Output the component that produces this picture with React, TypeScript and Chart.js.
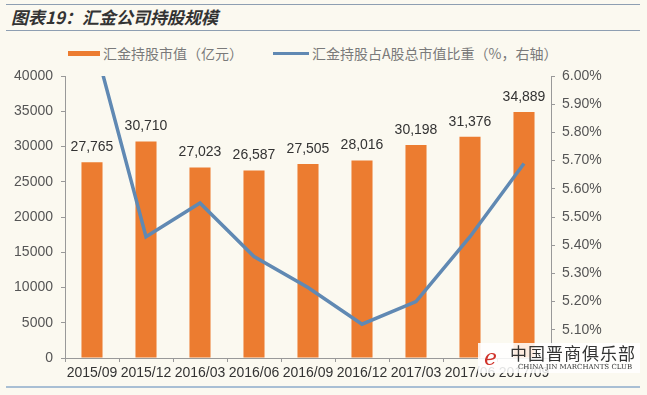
import React, { useEffect, useRef } from "react";
import { Chart, registerables } from "chart.js";

Chart.register(...registerables);

const categories = ["2015/09", "2015/12", "2016/03", "2016/06", "2016/09", "2016/12", "2017/03", "2017/06", "2017/09"];
const holdingValue = [27765, 30710, 27023, 26587, 27505, 28016, 30198, 31376, 34889];
const holdingShare = [6.15, 5.43, 5.55, 5.36, 5.25, 5.12, 5.2, 5.43, 5.69];
const leftAxis = { min: 0, max: 40000, step: 5000 };
const rightAxis = { min: 5, max: 6, step: 0.1 };

const titleText = "图表19：汇金公司持股规模";
const barLegend = "汇金持股市值（亿元）";
const lineLegend = "汇金持股占A股总市值比重（%，右轴）";

const LATIN = "'Liberation Sans', Arial, sans-serif";
const CJK = "'Noto Sans CJK SC', 'Noto Sans', sans-serif";
const BAR_COLOR = "#EC7C30";
const LINE_COLOR = "#6089B3";
const BG = "#FBF9F0";

const barLabels = {
  id: "barLabels",
  afterDatasetsDraw(chart: any) {
    const meta = chart.getDatasetMeta(1);
    const ctx = chart.ctx;
    ctx.save();
    ctx.font = `14px ${LATIN}`;
    ctx.fillStyle = "#333";
    ctx.textAlign = "center";
    ctx.textBaseline = "middle";
    meta.data.forEach((el: any, i: number) => {
      ctx.fillText(holdingValue[i].toLocaleString("en-US"), el.x, el.y - 15);
    });
    ctx.restore();
  },
};

export default function App() {
  const ref = useRef<HTMLCanvasElement | null>(null);

  useEffect(() => {
    if (!ref.current) return;
    const chart = new Chart(ref.current, {
      type: "bar",
      data: {
        labels: categories,
        datasets: [
          {
            type: "line",
            label: lineLegend,
            data: holdingShare,
            yAxisID: "y1",
            borderColor: LINE_COLOR,
            backgroundColor: LINE_COLOR,
            borderWidth: 3.5,
            pointRadius: 0,
            tension: 0,
            order: 0,
          } as any,
          {
            type: "bar",
            label: barLegend,
            data: holdingValue,
            yAxisID: "y",
            backgroundColor: BAR_COLOR,
            categoryPercentage: 1,
            barPercentage: 0.39,
            order: 1,
          } as any,
        ],
      },
      options: {
        responsive: false,
        maintainAspectRatio: false,
        animation: false,
        devicePixelRatio: 1,
        layout: { padding: { top: 76, left: 0, right: 0, bottom: 0 } },
        plugins: { legend: { display: false }, tooltip: { enabled: false } },
        scales: {
          x: {
            grid: { display: true, drawOnChartArea: false, tickLength: 4, color: "#999", offset: true },
            border: { color: "#999" },
            ticks: { font: { size: 14, family: LATIN }, color: "#333", maxRotation: 0, minRotation: 0, autoSkip: false, padding: 3 },
            afterFit: (s: any) => {
              s.height = 37;
            },
          },
          y: {
            position: "left",
            min: leftAxis.min,
            max: leftAxis.max,
            grid: { drawOnChartArea: false, tickLength: 4, color: "#999" },
            border: { color: "#999" },
            ticks: {
              stepSize: leftAxis.step,
              font: { size: 14, family: LATIN },
              color: "#555",
              padding: 8,
              callback: (v: any) => String(v),
            },
            afterFit: (s: any) => {
              s.width = 65;
            },
          },
          y1: {
            position: "right",
            min: rightAxis.min,
            max: rightAxis.max,
            grid: { drawOnChartArea: false, tickLength: 4, color: "#999" },
            border: { color: "#999" },
            ticks: {
              stepSize: rightAxis.step,
              font: { size: 14, family: LATIN },
              color: "#555",
              padding: 7,
              callback: (v: any) => (Math.abs(Number(v) - rightAxis.min) < 1e-6 ? "" : Number(v).toFixed(2) + "%"),
            },
            afterFit: (s: any) => {
              s.width = 96;
            },
          },
        } as any,
      },
      plugins: [barLabels],
    });
    return () => chart.destroy();
  }, []);

  return (
    <div style={{ position: "fixed", left: 0, top: 0, width: 647, height: 395, background: BG, overflow: "hidden" }}>
      <div style={{ position: "absolute", left: 6, top: 4, width: 634, height: 1, background: "#8E9FB2" }} />
      <div
        style={{
          position: "absolute",
          left: 11,
          top: 5,
          height: 24,
          lineHeight: "24px",
          fontFamily: CJK,
          fontSize: 17,
          fontWeight: 700,
          fontStyle: "italic",
          color: "#333",
          whiteSpace: "nowrap",
        }}
      >
        {titleText}
      </div>
      <div style={{ position: "absolute", left: 6, top: 30, width: 634, height: 1, background: "#8E9FB2" }} />

      <div style={{ position: "absolute", left: 68, top: 51, width: 32, height: 5, background: BAR_COLOR }} />
      <div style={{ position: "absolute", left: 103, top: 43, lineHeight: "20px", fontFamily: CJK, fontSize: 14, color: "#7a7a7a", whiteSpace: "nowrap" }}>
        {barLegend}
      </div>
      <div style={{ position: "absolute", left: 273, top: 52, width: 36, height: 3, background: LINE_COLOR }} />
      <div style={{ position: "absolute", left: 312, top: 43, lineHeight: "20px", fontFamily: CJK, fontSize: 14, color: "#7a7a7a", whiteSpace: "nowrap" }}>
        {lineLegend}
      </div>

      <canvas ref={ref} width={647} height={395} style={{ position: "absolute", left: 0, top: 0, width: 647, height: 395 }} />

      <div style={{ position: "absolute", left: 6, top: 386, width: 634, height: 1.5, background: "#A9BFD4" }} />

      <div
        style={{
          position: "absolute",
          left: 478,
          top: 343,
          width: 162,
          height: 30,
          background: "rgba(255,255,255,0.86)",
        }}
      >
        <div style={{ position: "absolute", left: 6, top: 0, fontFamily: "'DejaVu Serif', serif", fontStyle: "italic", fontSize: 22, color: "#D0322A", lineHeight: "30px" }}>
          e
        </div>
        <div style={{ position: "absolute", left: 32, top: 0, fontFamily: CJK, fontSize: 17, color: "#333", lineHeight: "20px", whiteSpace: "nowrap", letterSpacing: 1 }}>
          中国晋商俱乐部
        </div>
        <div style={{ position: "absolute", left: 40, top: 20, fontFamily: "'DejaVu Serif', serif", fontSize: 7, color: "#333", lineHeight: "9px", whiteSpace: "nowrap" }}>
          CHINA JIN MARCHANTS CLUB
        </div>
      </div>
    </div>
  );
}
